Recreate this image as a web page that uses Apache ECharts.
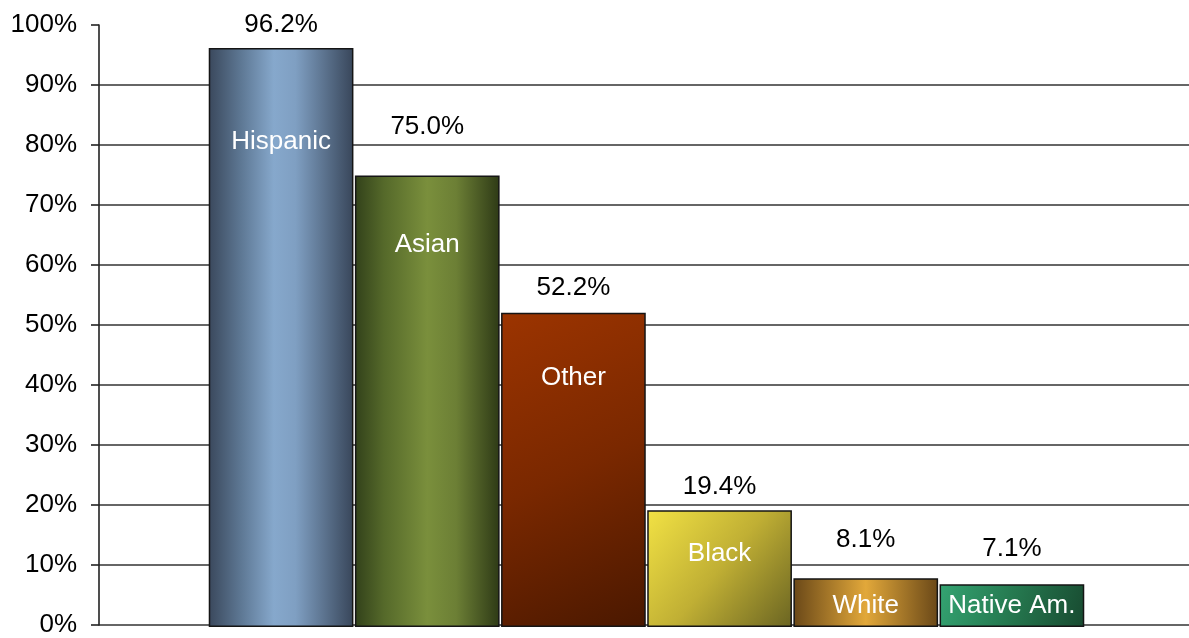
<!DOCTYPE html>
<html>
<head>
<meta charset="utf-8">
<script src="https://cdn.jsdelivr.net/npm/echarts@6/dist/echarts.min.js"></script>
<style>
html,body{margin:0;padding:0;background:#fff;}
#chart{width:1189px;height:638px;}
</style>
</head>
<body>
<div id="chart"></div>
<script>
// ---- data ----
const categories = ['Hispanic', 'Asian', 'Other', 'Black', 'White', 'Native Am.'];
const values = [96.2, 75.0, 52.2, 19.4, 8.1, 7.1];
const yMin = 0, yMax = 100, yStep = 10;

// ---- styling (per-bar label placement and fills) ----
const valueLabelDistance = [10, 36, 12, 10, 25, 22];
const nameLabelDistance = [81, 56, 52, 31, 15, 9];

function lin(x, y, x2, y2, stops) {
  return new echarts.graphic.LinearGradient(x, y, x2, y2,
    stops.map(s => ({ offset: s[0], color: s[1] })));
}
const fills = [
  lin(0, 0, 1, 0, [[0, '#3a485c'], [0.22, '#5d7793'], [0.45, '#86a8cc'], [0.6, '#7f9fc2'], [1, '#38465a']]),
  lin(0, 0, 1, 0, [[0, '#32411a'], [0.2, '#55692a'], [0.5, '#7a8f3c'], [0.7, '#6c7f35'], [1, '#2e3a16']]),
  lin(0, 0, 1, 1, [[0, '#9c3400'], [0.5, '#7a2800'], [1, '#4a1800']]),
  lin(0, 0, 1, 1, [[0, '#f2e244'], [0.5, '#c0af34'], [1, '#6a6422']]),
  lin(0, 0, 1, 0, [[0, '#6a4818'], [0.5, '#e2a83a'], [1, '#6a4818']]),
  lin(0, 0, 1, 1, [[0, '#34a472'], [0.5, '#25784f'], [1, '#184a30']])
];

const FONT = 'Liberation Sans, Arial, sans-serif';
const FS = 26;
const nSplit = (yMax - yMin) / yStep + 1;
const gridColors = [];
for (let i = 0; i < nSplit; i++) gridColors.push(i === nSplit - 1 ? 'rgba(0,0,0,0)' : '#333333');

const chart = echarts.init(document.getElementById('chart'), null, { renderer: 'canvas' });
chart.setOption({
  backgroundColor: '#ffffff',
  animation: false,
  grid: [
    { left: 99, right: 0, top: 25, bottom: 11, containLabel: false },
    { left: 208, width: 877, top: 25, bottom: 11, containLabel: false }
  ],
  xAxis: [
    { type: 'category', gridIndex: 0, data: [''], show: false },
    { type: 'category', gridIndex: 1, data: categories, show: false }
  ],
  yAxis: [
    {
      type: 'value', gridIndex: 0, min: yMin, max: yMax, interval: yStep,
      axisLine: { show: true, lineStyle: { color: '#222', width: 1.6 } },
      axisTick: { show: true, length: 8, lineStyle: { color: '#222', width: 1.6 } },
      axisLabel: { formatter: '{value}%', fontSize: FS, color: '#000', fontFamily: FONT, margin: 22 },
      splitLine: { show: true, lineStyle: { color: gridColors, width: 1.6 } }
    },
    { type: 'value', gridIndex: 1, min: yMin, max: yMax, show: false, splitLine: { show: false } }
  ],
  series: [
    {
      type: 'bar', xAxisIndex: 1, yAxisIndex: 1,
      barCategoryGap: '1%', barGap: '-100%',
      data: values.map((v, i) => ({
        value: v,
        itemStyle: { color: fills[i], borderColor: '#151515', borderWidth: 1.5 },
        label: { distance: valueLabelDistance[i] }
      })),
      label: {
        show: true, position: 'top', color: '#000', fontSize: FS, fontFamily: FONT, lineHeight: 26,
        formatter: p => p.value.toFixed(1) + '%'
      }
    },
    {
      type: 'bar', xAxisIndex: 1, yAxisIndex: 1, silent: true,
      barCategoryGap: '1%', barGap: '-100%',
      data: values.map((v, i) => ({
        value: v,
        itemStyle: { color: 'rgba(0,0,0,0)' },
        label: { distance: nameLabelDistance[i] }
      })),
      label: {
        show: true, position: 'insideTop', color: '#fff', fontSize: FS, fontFamily: FONT, lineHeight: 26,
        formatter: p => categories[p.dataIndex]
      }
    }
  ]
});
</script>
</body>
</html>
